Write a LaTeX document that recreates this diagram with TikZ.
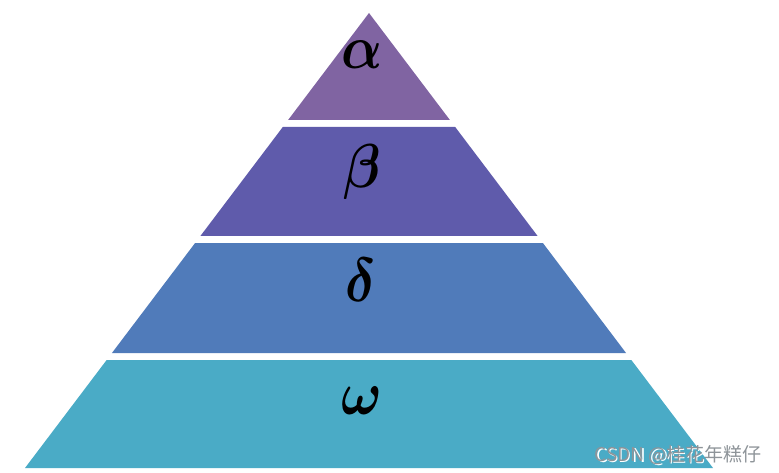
\documentclass[tikz,border=0pt]{standalone}
\usepackage{fontspec}
\usepackage{amsmath}
\usepackage{bm}
\newfontfamily\cjk{Noto Sans CJK SC}
\definecolor{layerA}{HTML}{8064A2}
\definecolor{layerB}{HTML}{5F5BAB}
\definecolor{layerC}{HTML}{507BBA}
\definecolor{layerD}{HTML}{4AABC6}
\definecolor{wmark}{HTML}{8E9499}
\newcommand{\biglet}[1]{\scalebox{5.4}[6.2]{$\bm{#1}$}}
\begin{document}
\begin{tikzpicture}[x=1pt,y=-1pt,
  lettertext/.style={inner sep=0pt},
  wmtext/.style={inner sep=0pt,font=\cjk\fontsize{19}{22}\selectfont}]
\useasboundingbox (0,0) rectangle (779,473);
% pyramid apex (369,13), base y=468 half-width 344
\pgfmathsetmacro{\ax}{369}
\pgfmathsetmacro{\ay}{13}
\pgfmathsetmacro{\k}{344/455}
\def\band#1#2#3{%
  \pgfmathsetmacro{\wa}{\k*(#1-\ay)}%
  \pgfmathsetmacro{\wb}{\k*(#2-\ay)}%
  \fill[#3] (\ax-\wa,#1) -- (\ax+\wa,#1) -- (\ax+\wb,#2) -- (\ax-\wb,#2) -- cycle;}
\band{13}{120}{layerA}
\band{127}{236}{layerB}
\band{243}{353}{layerC}
\band{360}{468}{layerD}
\node[lettertext] (alpha) at (362,55) {\biglet{\alpha}};
\node[lettertext] (beta) at (362,172) {\biglet{\beta}};
\node[lettertext] (delta) at (361,280) {\biglet{\delta}};
\node[lettertext] (omega) at (362,401) {\biglet{\omega}};
\node[wmtext,text=white] (wmshadow) at (679.5,456.5) {CSDN @桂花年糕仔};
\node[wmtext,text=wmark] (wm) at (678,455) {CSDN @桂花年糕仔};
\end{tikzpicture}
\end{document}
